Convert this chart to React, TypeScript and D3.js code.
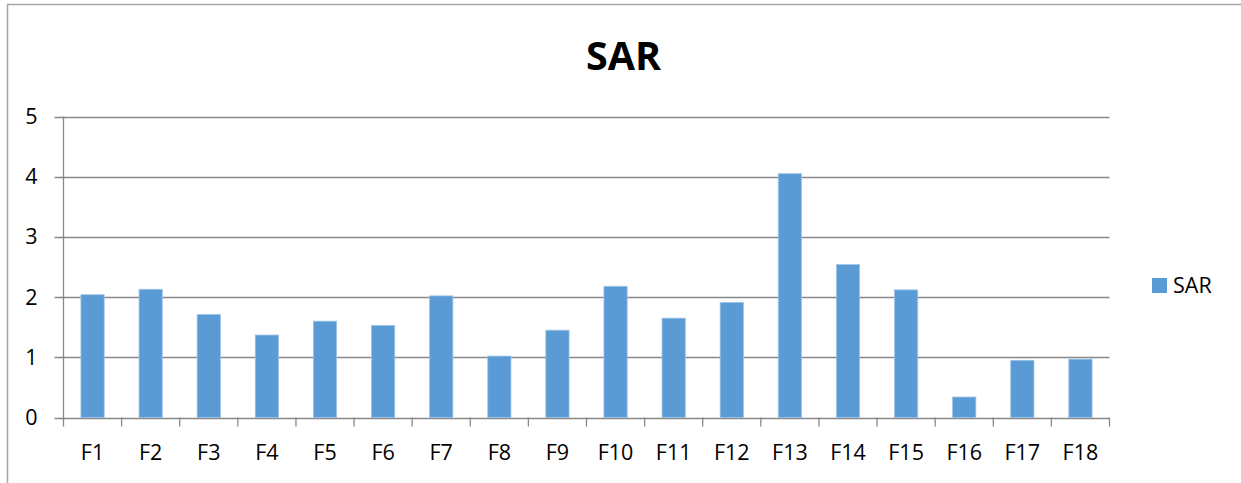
import React from "react";
import * as d3 from "d3";

const categories = ["F1","F2","F3","F4","F5","F6","F7","F8","F9","F10","F11","F12","F13","F14","F15","F16","F17","F18"];
const sarValues = [2.04,2.13,1.71,1.37,1.6,1.53,2.02,1.02,1.45,2.18,1.65,1.91,4.05,2.54,2.12,0.34,0.95,0.97];
const yTicks = [0,1,2,3,4,5];
const seriesName = "SAR";
const title = "SAR";

const W = 1241, H = 483;
const left = 63.5, right = 1109.5, top = 116.5, bottom = 417.5;
const font = "'Open Sans', sans-serif";
const fs = 21.5;

export default function App() {
  const x = d3.scaleBand<string>().domain(categories).range([left, right]).paddingInner(0.6).paddingOuter(0.3);
  const xb = d3.scaleBand<string>().domain(categories).range([left, right]).padding(0);
  const y = d3.scaleLinear().domain([0, 5]).range([bottom, top]);
  const grid = "#898989";
  return (
    <svg width={W} height={H} style={{ position: "absolute", left: 0, top: 0, display: "block" }}>
      <rect x={0} y={0} width={W} height={H} fill="#fff" />
      <path d={`M7.5,${H + 5}V4.5H${W + 5}`} fill="none" stroke="#a6a6a6" strokeWidth={1.5} />
      <text x={623.5} y={69.5} textAnchor="middle" fontFamily={font} fontWeight={700} fontSize={39.5} fill="#000">{title}</text>
      {yTicks.map(t => (
        <g key={t}>
          <line x1={left - 9} x2={right} y1={Math.round(y(t)) + 0.5} y2={Math.round(y(t)) + 0.5} stroke={grid} strokeWidth={1.3} />
          <text x={37.5} y={y(t)} dy="0.35em" textAnchor="end" fontFamily={font} fontSize={fs} fill="#000">{t}</text>
        </g>
      ))}
      <line x1={left} x2={left} y1={top} y2={bottom + 9} stroke={grid} strokeWidth={1.3} />
      {categories.map((c, i) => (
        <g key={c}>
          <line x1={(xb(c) as number) + xb.bandwidth()} x2={(xb(c) as number) + xb.bandwidth()} y1={bottom} y2={bottom + 9} stroke={grid} strokeWidth={1.3} />
          <rect x={x(c)} y={y(sarValues[i])} width={x.bandwidth()} height={y(0) - y(sarValues[i])} fill="#5B9BD5" stroke="#9dc3e6" strokeWidth={0.8} />
          <text x={(x(c) as number) + x.bandwidth() / 2} y={459.5} textAnchor="middle" fontFamily={font} fontSize={fs} fill="#000">{c}</text>
        </g>
      ))}
      <rect x={1152} y={278} width={15} height={15} fill="#5B9BD5" />
      <text x={1173} y={293} fontFamily={font} fontSize={fs} fill="#000">{seriesName}</text>
    </svg>
  );
}
